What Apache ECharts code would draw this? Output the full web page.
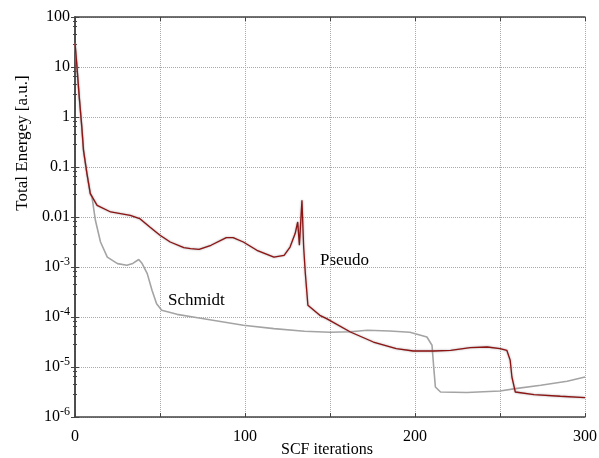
<!DOCTYPE html>
<html><head><meta charset="utf-8">
<script src="https://cdn.jsdelivr.net/npm/echarts@6/dist/echarts.min.js"></script>
<style>html,body{margin:0;padding:0;background:#fff}#c{width:599px;height:458px}</style>
</head><body><div id="c"></div>
<script>
// ---- data ----
const xTickLabels = ['0', '100', '200', '300'];
const pseudoIter = [0, 1, 2.5, 4, 5, 7, 9, 13, 21, 32.5, 38, 44, 50, 56, 64, 68, 73, 80, 89, 93, 99, 107, 117, 123, 126.5, 129.5, 131, 132, 133.5, 134.5, 135.5, 137, 138, 144, 148, 162, 175.5, 189, 199, 211, 221, 232.5, 242.5, 250, 254, 256, 257, 259, 270, 285.5, 300];
const pseudoEnergy = [29.8, 11.7, 2.51, 0.63, 0.216, 0.0748, 0.0294, 0.0171, 0.0126, 0.0108, 0.0093, 0.0063, 0.0043, 0.00316, 0.00244, 0.00233, 0.00226, 0.00272, 0.00387, 0.00387, 0.00316, 0.00216, 0.00158, 0.00171, 0.00251, 0.00466, 0.00794, 0.00272, 0.0216, 0.00251, 0.000738, 0.000171, 0.000156, 0.000108, 9.29e-5, 5.01e-5, 3.16e-5, 2.33e-5, 2.09e-5, 2.09e-5, 2.16e-5, 2.44e-5, 2.51e-5, 2.33e-5, 2.16e-5, 1.36e-5, 6.31e-6, 3.16e-6, 2.81e-6, 2.6e-6, 2.44e-6];
const schmidtIter = [0, 1, 2.5, 4, 5, 7, 9, 10, 12, 15, 19, 25, 30.5, 34, 37.5, 39.5, 42.5, 45.3, 48, 51, 60, 73, 99, 117, 135, 150, 162, 172, 185, 197, 207, 210, 211, 212, 215, 230.5, 250, 259, 274, 289.5, 300];
const schmidtEnergy = [29.8, 11.7, 2.51, 0.63, 0.216, 0.0748, 0.0294, 0.0251, 0.0086, 0.00316, 0.00158, 0.00117, 0.00108, 0.00118, 0.00141, 0.00117, 0.000738, 0.000342, 0.000185, 0.000136, 0.000113, 9.55e-5, 6.82e-5, 5.86e-5, 5.18e-5, 4.94e-5, 5.06e-5, 5.42e-5, 5.25e-5, 4.94e-5, 3.98e-5, 2.72e-5, 1e-5, 3.98e-6, 3.16e-6, 3.08e-6, 3.31e-6, 3.7e-6, 4.31e-6, 5.18e-6, 6.31e-6];

const FONT = 'Liberation Serif';
const zip = (a, b) => a.map((v, i) => [v, b[i]]);

function yLabel(v) {
  const e = Math.round(Math.log10(v));
  if (e >= 0) return String(Math.pow(10, e));
  if (e === -1) return '0.1';
  if (e === -2) return '0.01';
  return '{b|10}{s|' + e + '}';
}

const chart = echarts.init(document.getElementById('c'), null, {renderer: 'canvas'});
const axisLine = {show: true, lineStyle: {color: '#444', width: 1.5}};
chart.setOption({
  backgroundColor: '#fff',
  animation: false,
  grid: {left: 75, right: 14, top: 17, bottom: 41, containLabel: false, outerBoundsMode: 'none'},
  xAxis: [{
    type: 'value', min: 0, max: 300, interval: 50,
    axisLine: axisLine,
    axisTick: {show: true, inside: true, length: 4, lineStyle: {color: '#444'}},
    axisLabel: {
      margin: 12, color: '#000', fontFamily: FONT, fontSize: 16,
      formatter: v => (xTickLabels.indexOf(String(v)) >= 0 ? String(v) : '')
    },
    splitLine: {show: true, lineStyle: {type: 'dotted', color: '#aaa', width: 1}}
  }, {
    type: 'value', min: 0, max: 300, interval: 50, position: 'top',
    axisLine: axisLine,
    axisTick: {show: true, inside: true, length: 4, lineStyle: {color: '#444'}},
    axisLabel: {show: false}, splitLine: {show: false}
  }],
  yAxis: [{
    type: 'log', logBase: 10, min: 1e-6, max: 100,
    axisLine: axisLine,
    axisTick: {show: true, inside: true, length: 4, lineStyle: {color: '#444'}},
    minorTick: {show: true, splitNumber: 5, length: 2, lineStyle: {color: '#444'}},
    axisLabel: {
      margin: 5, color: '#000', fontFamily: FONT, fontSize: 16,
      formatter: yLabel,
      rich: {
        b: {fontFamily: FONT, fontSize: 16, color: '#000'},
        s: {fontFamily: FONT, fontSize: 12, color: '#000', padding: [0, 0, 11, 0]}
      }
    },
    splitLine: {show: true, lineStyle: {type: 'dotted', color: '#aaa', width: 1}}
  }, {
    type: 'log', logBase: 10, min: 1e-6, max: 100, position: 'right',
    axisLine: axisLine,
    axisTick: {show: true, inside: true, length: 4, lineStyle: {color: '#444'}},
    minorTick: {show: true, splitNumber: 5, length: 2, lineStyle: {color: '#444'}},
    axisLabel: {show: false}, splitLine: {show: false}
  }],
  graphic: [
    {type: 'text', x: 23, y: 143, rotation: Math.PI / 2,
     style: {text: 'Total Energey [a.u.]', fill: '#000', font: '17px "Liberation Serif"', align: 'center', verticalAlign: 'middle'}},
    {type: 'text', x: 327, y: 450,
     style: {text: 'SCF iterations', fill: '#000', font: '16px "Liberation Serif"', align: 'center', verticalAlign: 'middle'}},
    {type: 'text', x: 320, y: 261,
     style: {text: 'Pseudo', fill: '#000', font: '17px "Liberation Serif"', align: 'left', verticalAlign: 'middle'}},
    {type: 'text', x: 168, y: 301,
     style: {text: 'Schmidt', fill: '#000', font: '17px "Liberation Serif"', align: 'left', verticalAlign: 'middle'}}
  ],
  series: [{
    name: 'Schmidt', type: 'line', showSymbol: false, symbol: 'none',
    data: zip(schmidtIter, schmidtEnergy),
    lineStyle: {color: '#a4a4a4', width: 1.6}
  }, {
    name: 'Pseudo', type: 'line', showSymbol: false, symbol: 'none',
    data: zip(pseudoIter, pseudoEnergy),
    lineStyle: {color: '#8e1414', width: 1.3, shadowColor: 'rgba(140,140,140,0.9)', shadowBlur: 2}
  }]
});
</script></body></html>
